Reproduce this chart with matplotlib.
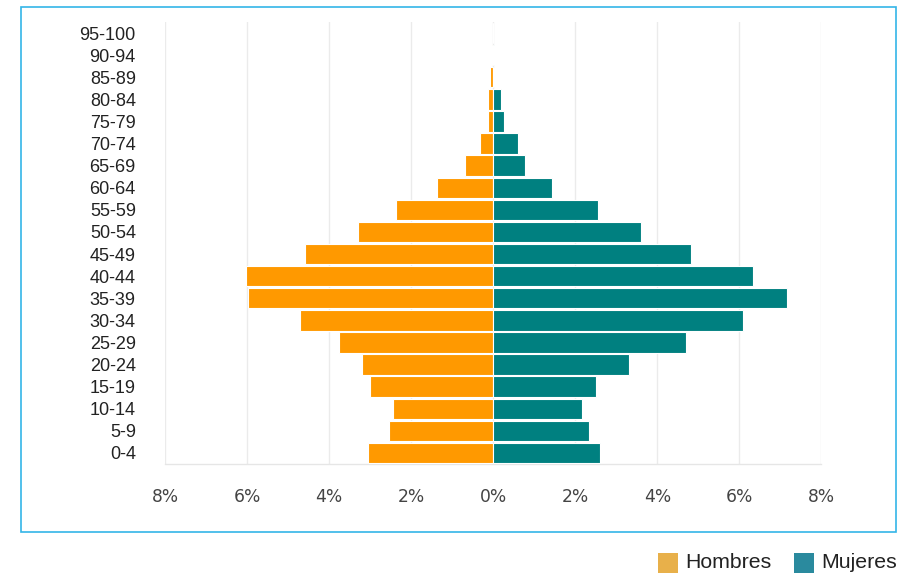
import matplotlib
matplotlib.use("Agg")
import matplotlib.pyplot as plt
from matplotlib.patches import Rectangle
import numpy as np

ages = ['0-4', '5-9', '10-14', '15-19', '20-24', '25-29', '30-34', '35-39',
        '40-44', '45-49', '50-54', '55-59', '60-64', '65-69', '70-74',
        '75-79', '80-84', '85-89', '90-94', '95-100']
hombres = [3.06, 2.53, 2.45, 3.01, 3.20, 3.77, 4.72, 5.98, 6.02, 4.59,
           3.29, 2.37, 1.38, 0.68, 0.32, 0.12, 0.14, 0.07, 0.02, 0.0]
mujeres = [2.60, 2.33, 2.16, 2.51, 3.30, 4.70, 6.08, 7.17, 6.33, 4.81,
           3.61, 2.56, 1.43, 0.78, 0.61, 0.25, 0.19, 0.02, 0.01, 0.0]
xticks = [-8, -6, -4, -2, 0, 2, 4, 6, 8]
legend_labels = ['Hombres', 'Mujeres']

W, H = 906, 574
fig = plt.figure(figsize=(W / 100, H / 100), dpi=100)
ax = fig.add_axes([165 / W, 110 / H, (821.5 - 165) / W, 442 / H])

y = np.arange(len(ages))
ax.barh(y, -np.array(hombres), height=0.92, color='#FF9900',
        edgecolor='white', linewidth=0.8, zorder=3)
ax.barh(y, mujeres, height=0.92, color='#008080',
        edgecolor='white', linewidth=0.8, zorder=3)

ax.set_xlim(-8, 8)
ax.set_ylim(-0.5, len(ages) - 0.5)
ax.set_xticks(xticks)
ax.set_xticklabels([f'{abs(v)}%' for v in xticks], fontsize=12.3,
                   color='#444444', family='DejaVu Sans')
ax.set_yticks(y)
ax.set_yticklabels(ages, fontsize=13, color='#222222',
                   family='Liberation Sans')
ax.tick_params(axis='x', length=0, pad=17)
ax.tick_params(axis='y', length=0, pad=21)
ax.grid(axis='x', color='#ebebeb', linewidth=1, zorder=0)
for s in ['top', 'right', 'left']:
    ax.spines[s].set_visible(False)
ax.spines['bottom'].set_color('#e6e6e6')
ax.spines['bottom'].set_linewidth(1)

# outer frame
fig.patches.append(Rectangle((21 / W, (H - 532) / H), (896 - 21) / W,
                             (532 - 7) / H, transform=fig.transFigure,
                             fill=False, edgecolor='#33b5e8', linewidth=1.2))

# legend
leg_colors = ['#E8B04A', '#2A8A9E']
sq_x = [658, 794]
for lab, c, sx in zip(legend_labels, leg_colors, sq_x):
    fig.patches.append(Rectangle((sx / W, (H - 573) / H), 20 / W, 20 / H,
                                 transform=fig.transFigure, facecolor=c,
                                 edgecolor='none'))
    fig.text((sx + 27) / W, (H - 563) / H, lab, fontsize=15.3,
             family='Liberation Sans', color='#222222', va='center',
             ha='left')

fig.savefig('out.png', dpi=100)
